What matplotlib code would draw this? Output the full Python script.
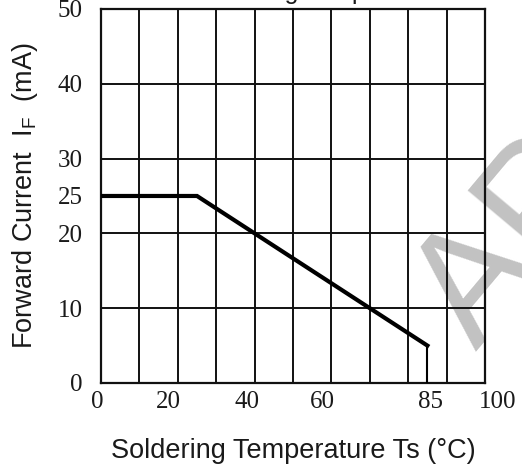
import numpy as np
import matplotlib.pyplot as plt
import matplotlib.transforms as mtransforms

# derating curve: forward current vs soldering temperature
temp = [0, 25, 85]
current = [25, 25, 5]

xticks = [0, 20, 40, 60, 85, 100]
yticks = [0, 10, 20, 25, 30, 40, 50]
grid_x = np.arange(0, 101, 10)
grid_y = np.arange(0, 51, 10)

fig = plt.figure(figsize=(5.22, 4.67), dpi=100)
ax = fig.add_axes([0.1935, 0.1799, 0.7356, 0.8009])

ax.set_xlim(0, 100)
ax.set_ylim(0, 50)

# grid every 10 units, labelled ticks kept separate
ax.xaxis.remove_overlapping_locs = False
ax.yaxis.remove_overlapping_locs = False
ax.set_xticks(xticks)
ax.set_yticks(yticks)
ax.set_xticks(grid_x, minor=True)
ax.set_yticks(grid_y, minor=True)
ax.grid(which='major', visible=False)
ax.grid(which='minor', color='#111111', linewidth=1.4)
ax.set_xticklabels([str(v) for v in xticks])
ax.set_yticklabels([str(v) for v in yticks])
ax.tick_params(which='both', length=0)
ax.tick_params(axis='x', pad=6, labelsize=18, labelcolor='#1a1a1a')
ax.tick_params(axis='y', pad=13, labelsize=18, labelcolor='#1a1a1a')
for lab in ax.get_xticklabels() + ax.get_yticklabels():
    lab.set_fontfamily('Liberation Serif')

# nudge the x labels a little, as on the original sheet
shifts = {0: -4, 20: -9, 40: -8, 60: -9, 85: 3, 100: 13}
for lab, v in zip(ax.get_xticklabels(), xticks):
    off = mtransforms.ScaledTranslation(shifts[v] / 100, 0, fig.dpi_scale_trans)
    lab.set_transform(lab.get_transform() + off)

for sp in ax.spines.values():
    sp.set_linewidth(1.6)
    sp.set_color('#111111')

ax.plot(temp, current, color='black', linewidth=3, solid_joinstyle='miter', zorder=3)
ax.plot([temp[-1], temp[-1]], [current[-1], 0], color='black', linewidth=1.5, zorder=3)

ax.set_xlabel('Soldering Temperature Ts (°C)', fontfamily='Liberation Sans',
              fontsize=19.5, color='#1a1a1a', labelpad=18)
ax.set_ylabel(r'Forward Current  $\mathregular{I_F}$  (mA)', fontfamily='Liberation Sans',
              fontsize=19.5, color='#1a1a1a', labelpad=13)

# title sits mostly above the top edge
fig.text(0.37, 1.002, 'Soldering Temperature', fontfamily='Liberation Sans',
         fontsize=18, color='#1a1a1a', ha='left', va='baseline')

# grey watermark behind the grid
ax.text(0.912, 0.2463, 'APPROVAL', transform=fig.transFigure, rotation=50,
        rotation_mode='anchor', ha='left', va='baseline', fontsize=115,
        fontfamily='Liberation Sans', color='#c2c2c2', zorder=1, clip_on=False)

fig.savefig('out.png', dpi=100)
